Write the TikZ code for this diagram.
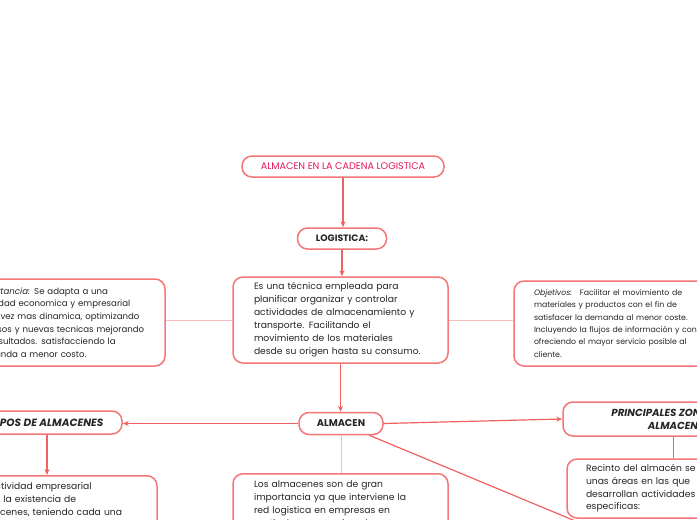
\documentclass[tikz,border=0pt]{standalone}
\usepackage{fontspec}
\setmainfont{Poppins}
\usetikzlibrary{arrows.meta}
\definecolor{bord}{RGB}{245,118,118}
\definecolor{arr}{RGB}{240,98,98}
\definecolor{lite}{RGB}{249,190,190}
\definecolor{ttl}{RGB}{226,24,88}
\definecolor{txt}{RGB}{38,38,38}
\begin{document}
\begin{tikzpicture}[x=1pt,y=-1pt,
  box/.style={draw=bord, line width=1.5pt, rounded corners=10pt, fill=white, text=txt, inner sep=0pt},
  con/.style={draw=arr, line width=1.2pt, -{Stealth[length=6pt,width=5pt]}},
  pcon/.style={draw=arr, line width=1.2pt},
  lcon/.style={draw=lite, line width=1pt},
  body/.style={font=\fontsize{9.2}{13}\selectfont, align=left}]
\useasboundingbox (0,0) rectangle (697,520);
\fill[white] (0,0) rectangle (697,520);

\node[box, minimum width=202pt, minimum height=21pt, text=ttl, font=\fontsize{9.6}{11}\selectfont] (title) at (343,166.5) {ALMACEN EN LA CADENA LOGISTICA};
\node[box, minimum width=89pt, minimum height=21pt, font=\bfseries\fontsize{9.3}{11}\selectfont] (logi) at (342,238.5) {LOGISTICA:};
\node[box, body, minimum width=215pt, minimum height=86pt, inner xsep=21pt, text width=173pt] (desc) at (340.5,320) {Es una técnica empleada para\\planificar organizar y controlar\\actividades de almacenamiento y\\transporte. Facilitando el\\movimiento de los materiales\\desde su origen hasta su consumo.};

\node[box, align=left, font=\fontsize{8.6}{12.6}\selectfont, minimum width=205pt, minimum height=87pt, inner xsep=15pt, text width=175pt] (izq) at (62.5,322.5) {\textit{Importancia:} Se adapta a una\\actividad economica y empresarial\\cada vez mas dinamica, optimizando\\recursos y nuevas tecnicas mejorando\\los resultados. satisfacciendo la\\demanda a menor costo.};

\node[box, align=left, font=\fontsize{7.8}{12.3}\selectfont, minimum width=300pt, minimum height=85pt, inner xsep=20pt, text width=260pt] (obj) at (664,323.5) {\textit{Objetivos:}\quad Facilitar el movimiento de\\materiales y productos con el fin de\\satisfacer la demanda al menor coste.\\Incluyendo la flujos de información y control,\\ofreciendo el mayor servicio posible al\\cliente.};

\node[box, minimum width=84pt, minimum height=22pt, font=\bfseries\fontsize{9.8}{11}\selectfont] (alm) at (341,423.5) {ALMACEN};
\node[box, minimum width=150pt, minimum height=23pt, font=\bfseries\itshape\fontsize{10.5}{12}\selectfont] (tipos) at (47,422.5) {TIPOS DE ALMACENES};
\node[box, align=center, minimum width=220pt, minimum height=34pt, font=\bfseries\itshape\fontsize{10.2}{13}\selectfont] (princ) at (673,419) {PRINCIPALES ZONAS DEL\\ALMACEN};

\node[box, body, anchor=north, minimum width=205pt, inner xsep=24pt, inner ysep=7pt, text width=157pt] (tbox) at (54.5,475) {La actividad empresarial\\exige la existencia de\\almacenes, teniendo cada una\\de ellas una funcion propia};
\node[box, body, anchor=north, minimum width=215pt, inner xsep=21pt, inner ysep=7pt, text width=173pt] (losalm) at (340.5,473) {Los almacenes son de gran\\importancia ya que interviene la\\red logistica en empresas en\\particular ya que sirve de};
\node[box, body, font=\fontsize{9.2}{12.7}\selectfont, minimum width=213pt, minimum height=59pt, inner xsep=19pt, text width=175pt] (recinto) at (673.5,488.5) {Recinto del almacén se divide en\\unas áreas en las que\\desarrollan actividades\\especificas:};

\coordinate (below) at (645,550);

\draw[con] (title.south) -- (title.south |- logi.north);
\draw[con] (logi.south) -- (logi.south |- desc.north);
\draw[lcon] (desc.west) -- (desc.west -| izq.east);
\draw[lcon] (desc.east) -- (desc.east -| obj.west);
\draw[con] (desc.south) -- (desc.south |- alm.north);
\draw[con] (alm.west) -- (alm.west -| tipos.east);
\draw[con] (alm.east) -- (princ.west);
\draw[lcon] (alm.south) -- (alm.south |- losalm.north);
\draw[con] (alm) -- (below);
\draw[con] (tipos.south) -- (tipos.south |- tbox.north);
\draw[pcon] (recinto.north) -- (recinto.north |- princ.south);
\end{tikzpicture}
\end{document}
